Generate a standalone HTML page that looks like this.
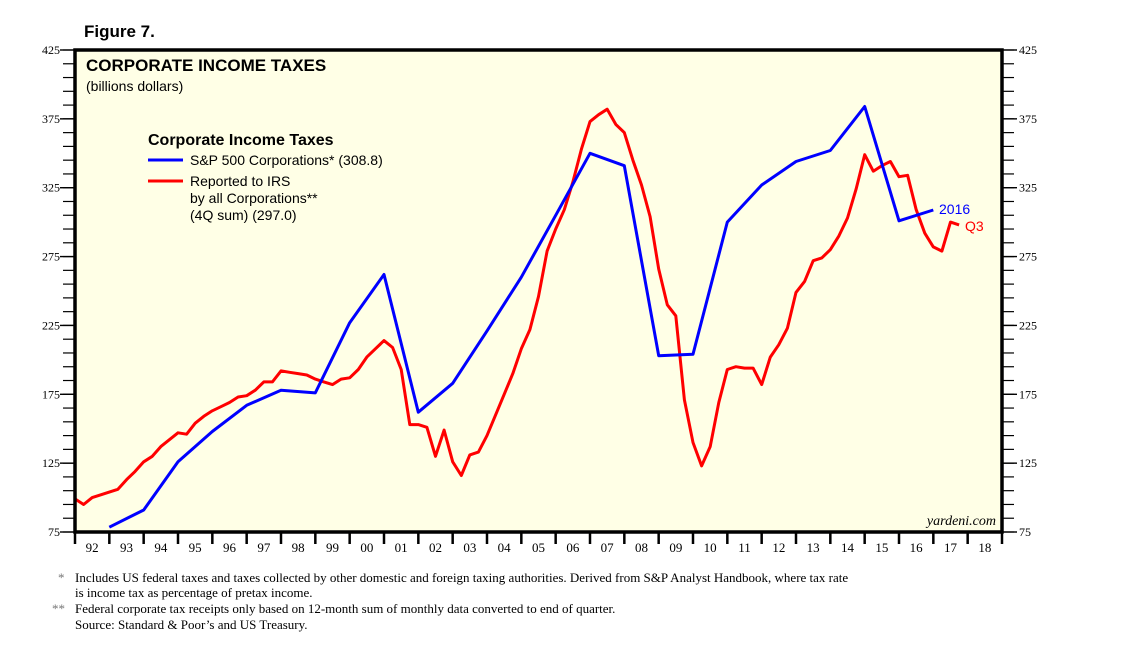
<!DOCTYPE html>
<html><head><meta charset="utf-8"><style>
body{margin:0;background:#fff;width:1138px;height:650px;overflow:hidden;font-family:"Liberation Serif",serif}
svg text{font-family:"Liberation Serif",serif}
.sans{font-family:"Liberation Sans",sans-serif}
</style></head><body>
<svg id="chart" width="1138" height="650"></svg>
<script>
const blueDates=[1993,1994,1995,1996,1997,1998,1999,2000,2001,2002,2003,2004,2005,2006,2007,2008,2009,2010,2011,2012,2013,2014,2015,2016,2017];
const blueValues=[78.5,91,126,148,167,178,176,227,262,162,183,221,260,305,350,341,203,204,300,327,344,352,384,301,308.8];
const redStart=1992.0;
const redValues=[99,95,100,102,104,106,113,119,126,130,137,142,147,146,154,159,163,166,169,173,174,178,184,184,192,191,190,189,186,184,182,186,187,193,202,208,
214,209,193,153,153,151,130,149,126,116,131,133,145,160,175,190,208,222,246,279,295,309,329,353,373,378,382,371,365,345,327,304,266,240,232,171,
140,123,137,169,193,195,194,194,182,202,211,223,249,257,272,274,280,290,303,324,349,337,341,344,333,334,309,292,282,279,300,298];
const yTicks=[75,125,175,225,275,325,375,425];
const yearLabels=['92','93','94','95','96','97','98','99','00','01','02','03','04','05','06','07','08','09','10','11','12','13','14','15','16','17','18'];
const X0=75,X1=1002,Y0=532,Y1=50,T0=1992,T1=2019,V0=75,V1=425;
const xs=t=>X0+(t-T0)/(T1-T0)*(X1-X0);
const ys=v=>Y0-(v-V0)/(V1-V0)*(Y0-Y1);
const svg=document.getElementById('chart');const NS='http://www.w3.org/2000/svg';
function mk(tag,attrs,parent){const e=document.createElementNS(NS,tag);for(const k in attrs)e.setAttribute(k,attrs[k]);(parent||svg).appendChild(e);return e;}
const bg=mk('rect',{x:X0,y:Y1,width:X1-X0,height:Y0-Y1,fill:'#ffffe6'});


for(let k=0;k<=35;k++){const v=V0+k*10;const y=ys(v);
 mk('line',{x1:X0,x2:X0-12,y1:y,y2:y,stroke:'#000','stroke-width':1.2});
 mk('line',{x1:X1,x2:X1+12,y1:y,y2:y,stroke:'#000','stroke-width':1.2});}
yTicks.forEach(v=>{const y=ys(v);
 mk('line',{x1:X0,x2:X0-15,y1:y,y2:y,stroke:'#000','stroke-width':1.4});
 mk('line',{x1:X1,x2:X1+15,y1:y,y2:y,stroke:'#000','stroke-width':1.4});
 const l=mk('text',{x:60,y:y+4,'text-anchor':'end','font-size':12});l.textContent=v;
 
 
 const r=mk('text',{x:1019,y:y+4,'font-size':12});r.textContent=v;
 
 });
for(let i=0;i<=yearLabels.length;i++){const x=xs(T0+i);mk('line',{x1:x,x2:x,y1:Y0,y2:Y0+12,stroke:'#000','stroke-width':2.5});}
yearLabels.forEach((s,i)=>{const t=mk('text',{x:xs(T0+i+0.5),y:Y0+20,'text-anchor':'middle','font-size':13});t.textContent=s;
 
 });
const rp=redValues.map((v,i)=>xs(redStart+i*0.25).toFixed(1)+','+ys(v).toFixed(1)).join(' ');
const red=mk('polyline',{points:rp,fill:'none',stroke:'#ff0000','stroke-width':3,'stroke-linejoin':'round'});


const bp=blueValues.map((v,i)=>xs(blueDates[i]).toFixed(1)+','+ys(v).toFixed(1)).join(' ');
const blue=mk('polyline',{points:bp,fill:'none',stroke:'#0000ff','stroke-width':3,'stroke-linejoin':'round'});


const frame=mk('rect',{x:X0,y:Y1,width:X1-X0,height:Y0-Y1,fill:'none',stroke:'#000','stroke-width':3.5});


</script>
<svg width="1138" height="650" style="position:absolute;left:0;top:0">
<text class="sans" x="84" y="37" font-size="17" font-weight="bold">Figure 7.</text>
<text class="sans" x="86" y="71" font-size="17" font-weight="bold">CORPORATE INCOME TAXES</text>
<text class="sans" x="86" y="91" font-size="14">(billions dollars)</text>
<text class="sans" x="148" y="145" font-size="16" font-weight="bold">Corporate Income Taxes</text>
<line x1="148" x2="183" y1="160" y2="160" stroke="#0000ff" stroke-width="3"/>
<text class="sans" x="190" y="165" font-size="14">S&amp;P 500 Corporations* (308.8)</text>
<line x1="148" x2="183" y1="181" y2="181" stroke="#ff0000" stroke-width="3"/>
<text class="sans" font-size="14"><tspan x="190" y="186">Reported to IRS</tspan><tspan x="190" y="203">by all Corporations**</tspan><tspan x="190" y="220">(4Q sum) (297.0)</tspan></text>
<text class="sans" x="939" y="214" font-size="14" fill="#0000ff">2016</text>
<text class="sans" x="965" y="231" font-size="14" fill="#ff0000">Q3</text>
<text x="996" y="525" font-size="14" font-style="italic" text-anchor="end">yardeni.com</text>
<g font-size="13">
<text x="58" y="582" fill="#777">*</text>
<text x="75" y="582">Includes US federal taxes and taxes collected by other domestic and foreign taxing authorities. Derived from S&amp;P Analyst Handbook, where tax rate</text>
<text x="75" y="597">is income tax as percentage of pretax income.</text>
<text x="52" y="613" fill="#777">**</text>
<text x="75" y="613">Federal corporate tax receipts only based on 12-month sum of monthly data converted to end of quarter.</text>
<text x="75" y="629">Source: Standard &amp; Poor’s and US Treasury.</text>
</g>
</svg>
</body></html>
